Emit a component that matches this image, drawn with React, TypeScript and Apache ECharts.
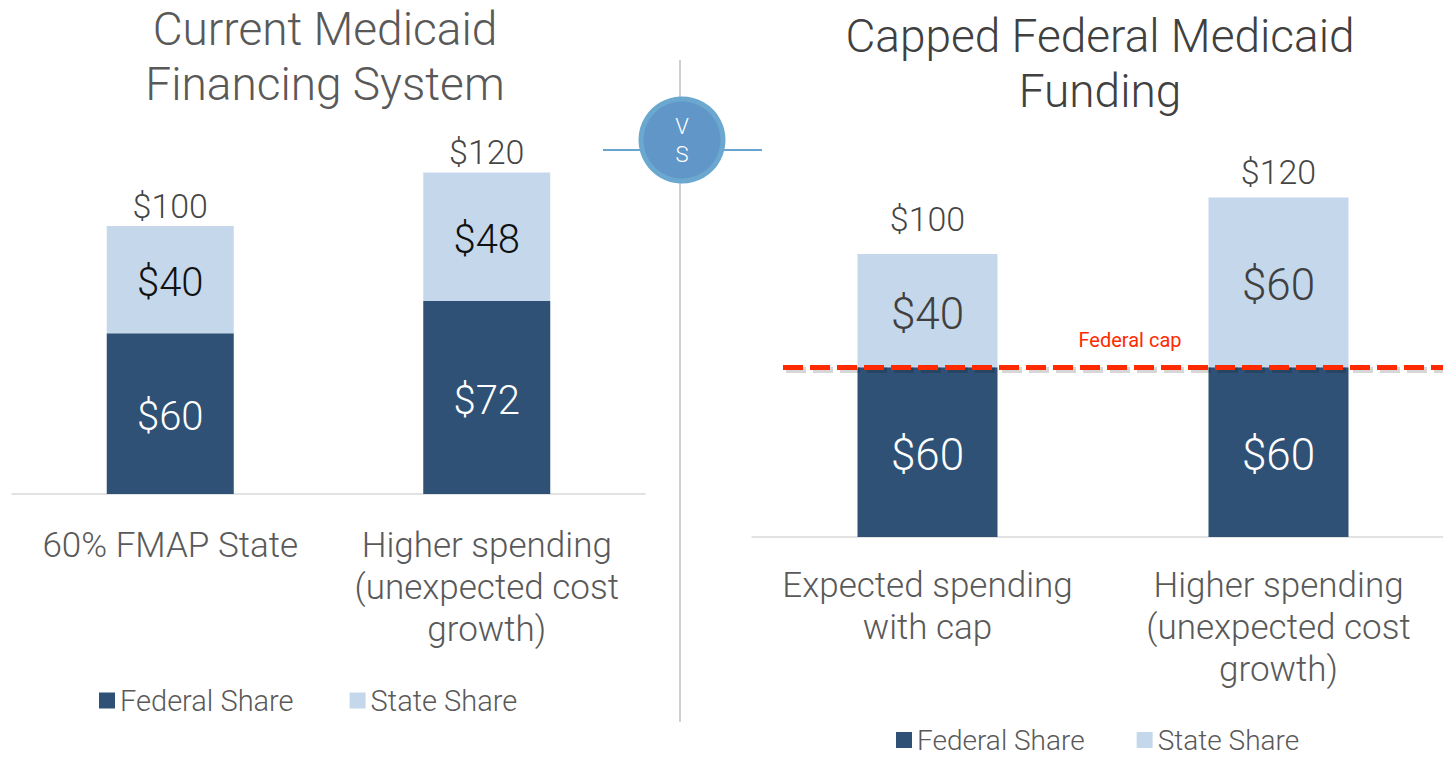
import React, { useEffect, useRef } from "react";
import * as echarts from "echarts";

const leftCategories = ["60% FMAP State", "Higher spending\n(unexpected cost\ngrowth)"];
const leftFederal = [60, 72];
const leftState = [40, 48];
const leftTotals = [100, 120];

const rightCategories = ["Expected spending\nwith cap", "Higher spending\n(unexpected cost\ngrowth)"];
const rightFederal = [60, 60];
const rightState = [40, 60];
const rightTotals = [100, 120];
const federalCap = 60;

const rightTotalLabelGaps = [18, 8];

const DARK = "#2F5175";
const LIGHT = "#C5D8EB";
const FONT = "Roboto";

export default function App() {
  const ref = useRef<HTMLDivElement>(null);
  useEffect(() => {
    if (!ref.current) return;
    const chart = echarts.init(ref.current, null, { renderer: "svg" });
    const catAxis = (idx: number, data: string[], margin: number) => ({
      type: "category",
      gridIndex: idx,
      data,
      axisLine: { lineStyle: { color: "#D9D9D9", width: 1.5 } },
      axisTick: { show: false },
      axisLabel: {
        interval: 0,
        margin,
        fontSize: 35,
        lineHeight: 42,
        color: "#595959",
        fontFamily: FONT,
        fontWeight: 300,
        align: "center",
      },
    });
    const valAxis = (idx: number) => ({
      type: "value",
      gridIndex: idx,
      min: 0,
      max: 150,
      show: false,
      splitLine: { show: false },
    });
    const inside = (color: string, size: number) => ({
      show: true,
      position: "inside",
      offset: [0, 3],
      formatter: (p: any) => "$" + p.value,
      color,
      fontSize: size,
      fontFamily: FONT,
      fontWeight: 300,
    });
    const totalLabel = (distance: number) => ({
      show: true,
      position: "top",
      distance,
      formatter: (p: any) => "$" + p.value[1],
      color: "#111",
      fontSize: 34,
      fontFamily: FONT,
      fontWeight: 300,
    });
    chart.setOption({
      animation: false,
      backgroundColor: "#fff",
      title: [
        {
          text: "Current Medicaid\nFinancing System",
          left: 320,
          top: -4,
          textAlign: "center",
          textStyle: { fontSize: 46, lineHeight: 55, color: "#595959", fontFamily: FONT, fontWeight: 300 },
        },
        {
          text: "Capped Federal Medicaid\nFunding",
          left: 1095,
          top: 3,
          textAlign: "center",
          textStyle: { fontSize: 46, lineHeight: 55, color: "#404040", fontFamily: FONT, fontWeight: 300 },
        },
      ],
      legend: [
        {
          data: ["Federal Share", "State Share"],
          left: 94,
          top: 681,
          icon: "rect",
          itemWidth: 16,
          itemHeight: 16,
          itemGap: 56,
          textStyle: { fontSize: 29, color: "#595959", fontFamily: FONT, fontWeight: 300 },
        },
        {
          data: ["Federal Share", "State Share"],
          left: 891,
          top: 721,
          icon: "rect",
          itemWidth: 16,
          itemHeight: 16,
          itemGap: 52,
          textStyle: { fontSize: 28, color: "#595959", fontFamily: FONT, fontWeight: 300 },
        },
      ],
      grid: [
        { left: 12, top: 92, width: 633, height: 402 },
        { left: 752, top: 112.5, width: 702, height: 424.5 },
      ],
      xAxis: [catAxis(0, leftCategories, 30), catAxis(1, rightCategories, 27)],
      yAxis: [valAxis(0), valAxis(1)],
      series: [
        {
          name: "Federal Share",
          type: "bar",
          stack: "L",
          xAxisIndex: 0,
          yAxisIndex: 0,
          barWidth: 127,
          data: leftFederal,
          itemStyle: { color: DARK },
          label: inside("#fff", 40),
        },
        {
          name: "State Share",
          type: "bar",
          stack: "L",
          xAxisIndex: 0,
          yAxisIndex: 0,
          barWidth: 127,
          data: leftState,
          itemStyle: { color: LIGHT },
          label: inside("#111", 40),
        },
        {
          name: "leftTotal",
          type: "scatter",
          xAxisIndex: 0,
          yAxisIndex: 0,
          symbolSize: 0,
          data: leftTotals.map((v, i) => [i, v]),
          label: totalLabel(3),
          silent: true,
        },
        {
          name: "Federal Share",
          type: "bar",
          stack: "R",
          xAxisIndex: 1,
          yAxisIndex: 1,
          barWidth: 140,
          data: rightFederal,
          itemStyle: { color: DARK },
          label: inside("#fff", 44),
        },
        {
          name: "State Share",
          type: "bar",
          stack: "R",
          xAxisIndex: 1,
          yAxisIndex: 1,
          barWidth: 140,
          data: rightState,
          itemStyle: { color: LIGHT },
          label: inside("#404040", 44),
          markLine: {
            silent: true,
            symbol: ["none", "none"],
            z: 10,
            lineStyle: {
              color: "#FF2A00",
              width: 5,
              type: [20, 7],
            },
            label: {
              show: true,
              position: "middle",
              formatter: "Federal cap",
              color: "#FF2A00",
              fontSize: 20,
              fontFamily: FONT,
              distance: 17,
              padding: [0, 0, 0, 34],
            },
            data: [
              [
                { xAxis: 0, yAxis: federalCap - 3 / 2.83, x: 786, label: { show: false } },
                {
                  xAxis: 1,
                  yAxis: federalCap - 3 / 2.83,
                  x: 1446,
                  lineStyle: { color: "rgba(0,0,0,0.16)", width: 6, type: [20, 7] },
                },
              ],
              [
                { xAxis: 0, yAxis: federalCap, x: 783 },
                { xAxis: 1, yAxis: federalCap, x: 1443 },
              ],
            ],
          },
        },
        {
          name: "rightTotal",
          type: "scatter",
          xAxisIndex: 1,
          yAxisIndex: 1,
          symbolSize: 0,
          data: rightTotals.map((v, i) => ({
            value: [i, v],
            label: { distance: rightTotalLabelGaps[i] },
          })),
          label: totalLabel(14),
          silent: true,
        },
      ],
      graphic: [
        { type: "line", shape: { x1: 680, y1: 60, x2: 680, y2: 722 }, style: { stroke: "#BFBFBF", lineWidth: 1.5 } },
        { type: "line", shape: { x1: 603, y1: 150, x2: 762, y2: 150 }, style: { stroke: "#6BA3CF", lineWidth: 2 } },
        { type: "circle", shape: { cx: 682, cy: 140, r: 41 }, style: { fill: "#6096C8", stroke: "#6AA8D0", lineWidth: 5 } },
        {
          type: "text",
          x: 682,
          y: 126,
          style: { text: "V", fill: "#fff", fontSize: 22, fontFamily: FONT, fontWeight: 300, align: "center", verticalAlign: "middle" },
        },
        {
          type: "text",
          x: 682,
          y: 154,
          style: { text: "S", fill: "#fff", fontSize: 22, fontFamily: FONT, fontWeight: 300, align: "center", verticalAlign: "middle" },
        },
      ],
    });
    return () => chart.dispose();
  }, []);
  return (
    <div
      ref={ref}
      style={{ position: "fixed", left: 0, top: 0, width: 1460, height: 758 }}
    />
  );
}
